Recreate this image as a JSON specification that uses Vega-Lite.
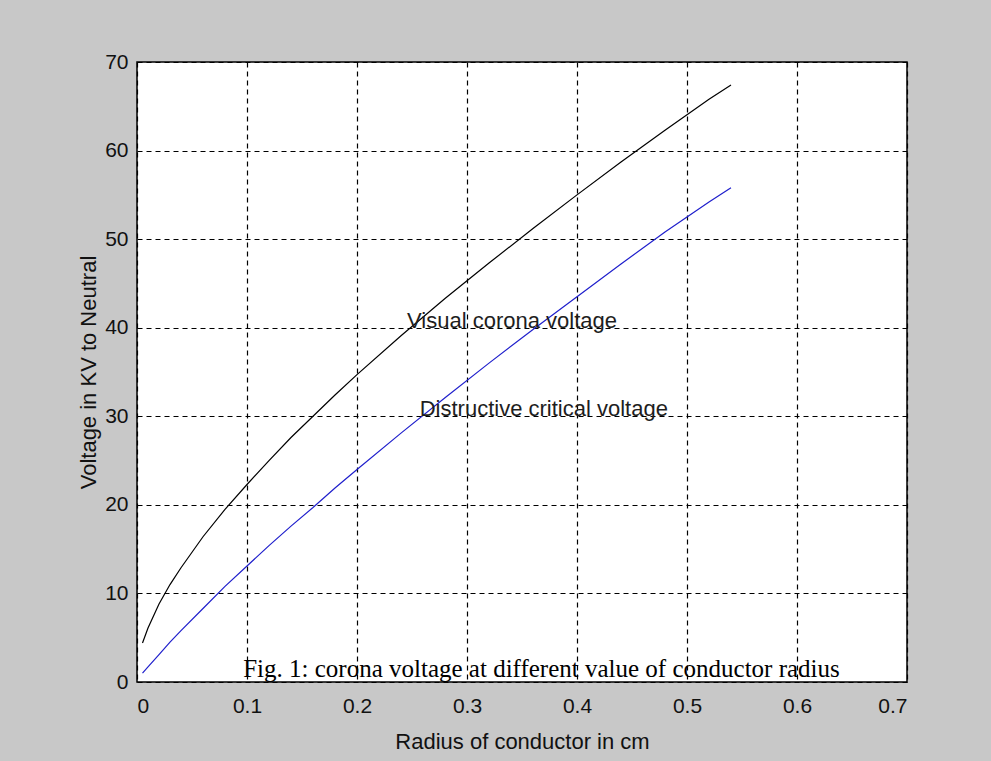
{
  "$schema": "https://vega.github.io/schema/vega-lite/v6.json",
  "width": 770,
  "height": 620,
  "autosize": {"type": "none"},
  "padding": {"left": 137, "top": 62, "right": 84, "bottom": 79},
  "background": "#c8c8c8",
  "config": {
    "view": {"fill": "#ffffff", "stroke": "#000000", "strokeWidth": 1.5},
    "axis": {
      "grid": true, "gridColor": "#000000", "gridDash": [5, 4], "gridWidth": 1.2, "gridOpacity": 1,
      "domain": false, "ticks": false,
      "labelFont": "Liberation Sans", "labelFontSize": 21, "labelColor": "#111111",
      "titleFont": "Liberation Sans", "titleFontSize": 22, "titleFontWeight": "normal", "titleColor": "#111111"
    }
  },
  "datasets": {
    "curves": [
      {"series": "Visual corona voltage", "radius": 0.005, "voltage": 4.4},
      {"series": "Visual corona voltage", "radius": 0.01, "voltage": 6.1},
      {"series": "Visual corona voltage", "radius": 0.02, "voltage": 8.8},
      {"series": "Visual corona voltage", "radius": 0.03, "voltage": 11.0},
      {"series": "Visual corona voltage", "radius": 0.04, "voltage": 12.9},
      {"series": "Visual corona voltage", "radius": 0.06, "voltage": 16.4},
      {"series": "Visual corona voltage", "radius": 0.08, "voltage": 19.5},
      {"series": "Visual corona voltage", "radius": 0.1, "voltage": 22.3},
      {"series": "Visual corona voltage", "radius": 0.12, "voltage": 25.0},
      {"series": "Visual corona voltage", "radius": 0.14, "voltage": 27.6},
      {"series": "Visual corona voltage", "radius": 0.16, "voltage": 30.0},
      {"series": "Visual corona voltage", "radius": 0.18, "voltage": 32.4},
      {"series": "Visual corona voltage", "radius": 0.2, "voltage": 34.7},
      {"series": "Visual corona voltage", "radius": 0.24, "voltage": 39.1},
      {"series": "Visual corona voltage", "radius": 0.28, "voltage": 43.3},
      {"series": "Visual corona voltage", "radius": 0.32, "voltage": 47.3},
      {"series": "Visual corona voltage", "radius": 0.36, "voltage": 51.2},
      {"series": "Visual corona voltage", "radius": 0.4, "voltage": 55.0},
      {"series": "Visual corona voltage", "radius": 0.44, "voltage": 58.7},
      {"series": "Visual corona voltage", "radius": 0.48, "voltage": 62.3},
      {"series": "Visual corona voltage", "radius": 0.52, "voltage": 65.8},
      {"series": "Visual corona voltage", "radius": 0.54, "voltage": 67.4},
      {"series": "Distructive critical voltage", "radius": 0.005, "voltage": 1.0},
      {"series": "Distructive critical voltage", "radius": 0.01, "voltage": 1.7},
      {"series": "Distructive critical voltage", "radius": 0.02, "voltage": 3.1},
      {"series": "Distructive critical voltage", "radius": 0.03, "voltage": 4.5},
      {"series": "Distructive critical voltage", "radius": 0.04, "voltage": 5.8},
      {"series": "Distructive critical voltage", "radius": 0.06, "voltage": 8.3},
      {"series": "Distructive critical voltage", "radius": 0.08, "voltage": 10.8},
      {"series": "Distructive critical voltage", "radius": 0.1, "voltage": 13.1},
      {"series": "Distructive critical voltage", "radius": 0.12, "voltage": 15.4},
      {"series": "Distructive critical voltage", "radius": 0.14, "voltage": 17.6},
      {"series": "Distructive critical voltage", "radius": 0.16, "voltage": 19.7},
      {"series": "Distructive critical voltage", "radius": 0.18, "voltage": 21.9},
      {"series": "Distructive critical voltage", "radius": 0.2, "voltage": 24.0},
      {"series": "Distructive critical voltage", "radius": 0.24, "voltage": 28.1},
      {"series": "Distructive critical voltage", "radius": 0.28, "voltage": 32.1},
      {"series": "Distructive critical voltage", "radius": 0.32, "voltage": 36.0},
      {"series": "Distructive critical voltage", "radius": 0.36, "voltage": 39.8},
      {"series": "Distructive critical voltage", "radius": 0.4, "voltage": 43.5},
      {"series": "Distructive critical voltage", "radius": 0.44, "voltage": 47.2},
      {"series": "Distructive critical voltage", "radius": 0.48, "voltage": 50.8},
      {"series": "Distructive critical voltage", "radius": 0.52, "voltage": 54.2},
      {"series": "Distructive critical voltage", "radius": 0.54, "voltage": 55.8}
    ],
    "notes": [
      {"label": "Visual corona voltage", "radius": 0.2455, "voltage": 40.0},
      {"label": "Distructive critical voltage", "radius": 0.257, "voltage": 30.0}
    ],
    "caption": [
      {"label": "Fig. 1: corona voltage at different value of conductor radius", "radius": 0.3677, "voltage": 0.56}
    ]
  },
  "layer": [
    {
      "data": {"name": "curves"},
      "mark": {"type": "line", "strokeWidth": 1.2, "clip": true},
      "encoding": {
        "x": {
          "field": "radius", "type": "quantitative",
          "scale": {"domain": [0, 0.7], "nice": false, "zero": false},
          "axis": {"values": [0, 0.1, 0.2, 0.3, 0.4, 0.5, 0.6, 0.7], "format": "~g", "labelPadding": 13, "title": "Radius of conductor in cm", "titlePadding": 15}
        },
        "y": {
          "field": "voltage", "type": "quantitative",
          "scale": {"domain": [0, 70], "nice": false},
          "axis": {"values": [0, 10, 20, 30, 40, 50, 60, 70], "labelPadding": 9, "title": "Voltage in KV to Neutral", "titlePadding": 4}
        },
        "color": {
          "field": "series", "type": "nominal",
          "scale": {"domain": ["Visual corona voltage", "Distructive critical voltage"], "range": ["#000000", "#1f1fcc"]},
          "legend": null
        }
      }
    },
    {
      "data": {"name": "notes"},
      "mark": {"type": "text", "align": "left", "baseline": "alphabetic", "font": "Liberation Sans", "fontSize": 22, "color": "#1e1e1e"},
      "encoding": {
        "x": {"field": "radius", "type": "quantitative"},
        "y": {"field": "voltage", "type": "quantitative"},
        "text": {"field": "label"}
      }
    },
    {
      "data": {"name": "caption"},
      "mark": {"type": "text", "align": "center", "baseline": "alphabetic", "font": "Liberation Serif", "fontSize": 25, "color": "#000000"},
      "encoding": {
        "x": {"field": "radius", "type": "quantitative"},
        "y": {"field": "voltage", "type": "quantitative"},
        "text": {"field": "label"}
      }
    }
  ]
}
